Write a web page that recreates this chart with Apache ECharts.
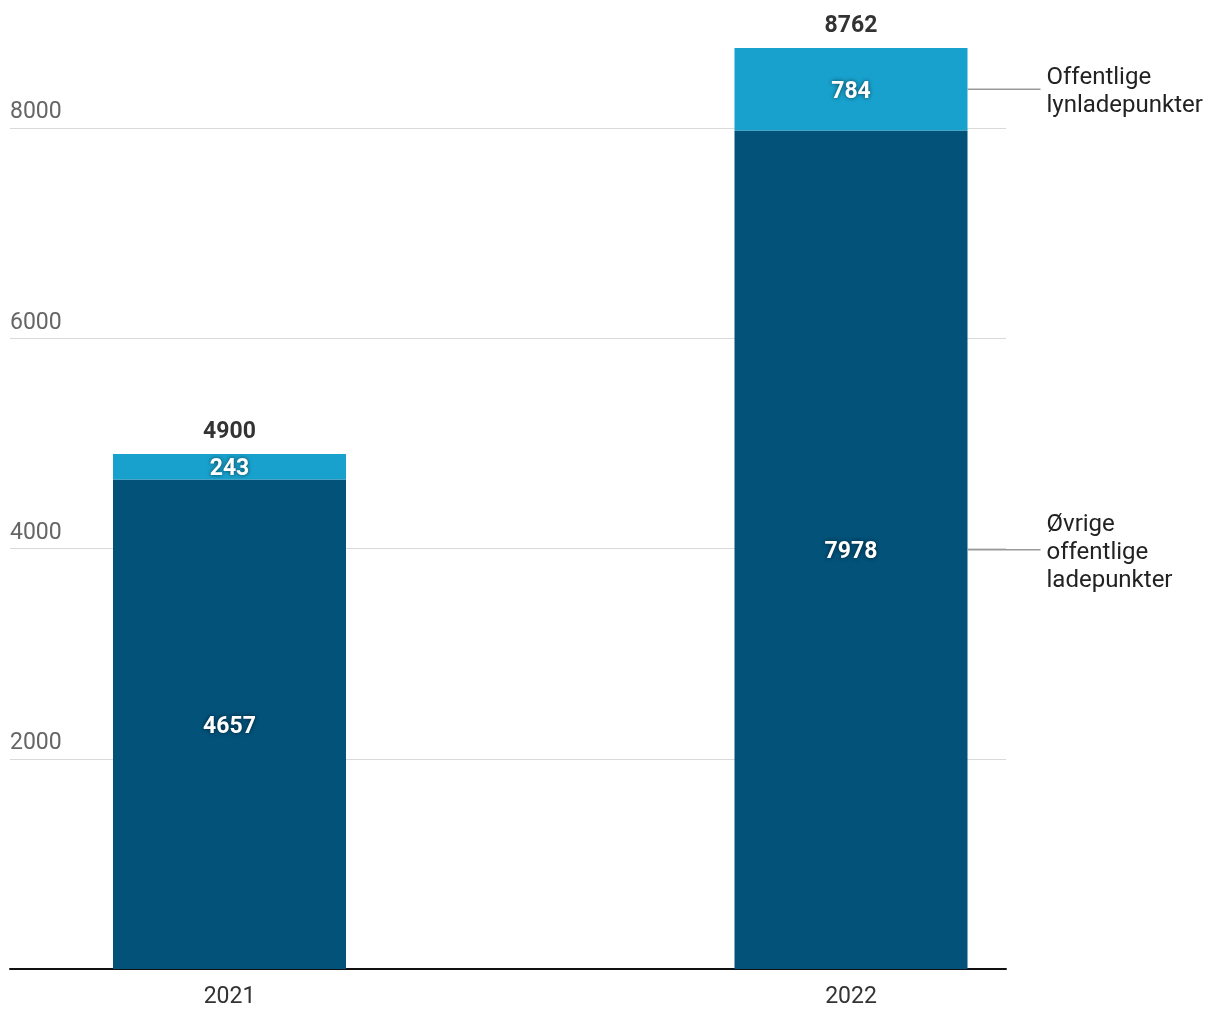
<!DOCTYPE html>
<html>
<head>
<meta charset="utf-8">
<script src="https://cdn.jsdelivr.net/npm/echarts@6/dist/echarts.min.js"></script>
<style>html,body{margin:0;padding:0;background:#fff}#c{width:1220px;height:1020px}</style>
</head>
<body>
<div id="c"></div>
<script>
const categories = ['2021', '2022'];
const ovrige = [4657, 7978];
const lyn = [243, 784];
const totals = [4900, 8762];
const seriesNames = ['Øvrige\noffentlige\nladepunkter', 'Offentlige\nlynladepunkter'];
const yTicks = [0, 2000, 4000, 6000, 8000];

const DARK = '#02527A';
const LIGHT = '#18A1CD';
const BAR_W = 233;
const FONT = 'Roboto';
const YMAX = totals[1];

const chart = echarts.init(document.getElementById('c'), null, {renderer: 'canvas'});

const insideLabel = {
  show: true, position: 'inside', offset: [0, 3], color: '#fff', fontFamily: FONT, fontWeight: 'bold', fontSize: 23,
  textShadowColor: 'rgba(0,0,0,0.6)', textShadowBlur: 4
};

const annData = [
  [1, ovrige[1] / 2, 0],
  [1, ovrige[1] + lyn[1] / 2, 1]
];

chart.setOption({
  animation: false,
  grid: [
    {left: 229.5, right: 369, top: 48, bottom: 51},
    {left: 10, right: 214, top: 48, bottom: 51}
  ],
  xAxis: [
    {type: 'category', gridIndex: 0, data: categories, boundaryGap: false,
     axisLine: {show: false}, axisTick: {show: false},
     axisLabel: {color: '#333', fontFamily: FONT, fontSize: 23, margin: 17}},
    {type: 'value', gridIndex: 1, min: 0, max: 1, show: true,
     axisLine: {show: true, lineStyle: {color: '#111', width: 2}}, axisTick: {show: false},
     axisLabel: {show: false}, splitLine: {show: false}}
  ],
  yAxis: [
    {type: 'value', gridIndex: 0, min: 0, max: YMAX, show: false},
    {type: 'value', gridIndex: 1, min: 0, max: YMAX, interval: 2000,
     axisLine: {show: false}, axisTick: {show: false},
     axisLabel: {inside: true, margin: 0, showMinLabel: false, showMaxLabel: false, color: '#666', fontFamily: FONT, fontSize: 23,
       verticalAlign: 'bottom', padding: [0, 0, 4, 0],
       formatter: v => (yTicks.indexOf(v) >= 0 ? String(v) : '')},
     splitLine: {show: true, showMinLine: false, showMaxLine: false, lineStyle: {color: '#d9d9d9', width: 1}}}
  ],
  series: [
    {type: 'bar', name: 'ovrige', xAxisIndex: 0, yAxisIndex: 0, stack: 's', data: ovrige, barWidth: BAR_W, clip: false,
     itemStyle: {color: DARK}, label: insideLabel},
    {type: 'bar', name: 'lyn', xAxisIndex: 0, yAxisIndex: 0, stack: 's', data: lyn, barWidth: BAR_W, clip: false,
     itemStyle: {color: LIGHT}, label: insideLabel},
    {type: 'custom', xAxisIndex: 0, yAxisIndex: 0, clip: false, z: 5,
     data: categories.map((c, i) => [i, totals[i]]),
     renderItem: (params, api) => {
       const p = api.coord([api.value(0), api.value(1)]);
       return {type: 'text', x: p[0], y: p[1] - 10,
         style: {text: String(api.value(1)), fill: '#333', font: 'bold 23px ' + FONT, align: 'center', verticalAlign: 'bottom'}};
     }},
    {type: 'custom', xAxisIndex: 0, yAxisIndex: 0, clip: false, z: 5,
     data: annData,
     renderItem: (params, api) => {
       const p = api.coord([api.value(0), api.value(1)]);
       const x0 = p[0] + BAR_W / 2;
       return {type: 'group', children: [
         {type: 'line', shape: {x1: x0, y1: p[1], x2: x0 + 73, y2: p[1]}, style: {stroke: '#999', lineWidth: 1.5}},
         {type: 'text', x: x0 + 79, y: p[1] + 3,
          style: {text: seriesNames[api.value(2)], fill: '#222', font: '24px ' + FONT, align: 'left', verticalAlign: 'middle', lineHeight: 28}}
       ]};
     }}
  ]
});
</script>
</body>
</html>
